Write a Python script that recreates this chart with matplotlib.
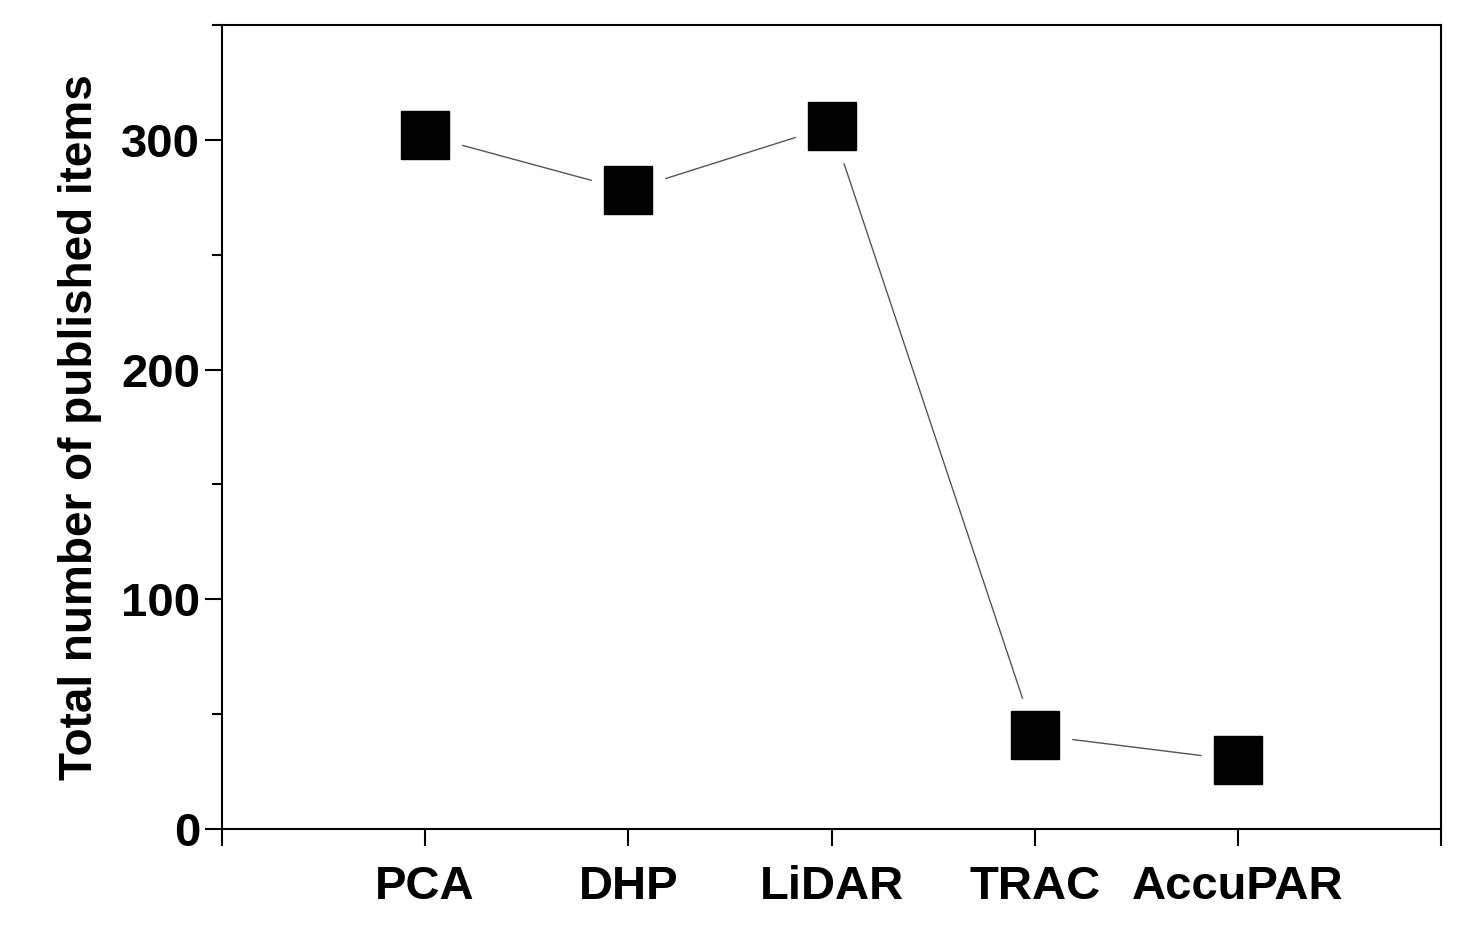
import matplotlib
matplotlib.use("Agg")
import matplotlib.pyplot as plt
from matplotlib.ticker import MultipleLocator

# data
methods = ["PCA", "DHP", "LiDAR", "TRAC", "AccuPAR"]
counts = [302, 278, 306, 41, 30]
positions = [1, 2, 3, 4, 5]

plt.rcParams["font.family"] = ["Liberation Sans", "DejaVu Sans"]
plt.rcParams["font.weight"] = "bold"

fig = plt.figure(figsize=(14.73, 9.32), dpi=100)
ax = fig.add_axes([0.1507, 0.1105, 0.8276, 0.8627])

# thin connecting line, with white halos to leave gaps at markers
ax.plot(positions, counts, color="#555555", linewidth=1.0, zorder=1)
ax.plot(positions, counts, linestyle="none", marker="s", markersize=52,
        markerfacecolor="white", markeredgecolor="white", zorder=2)
ax.plot(positions, counts, linestyle="none", marker="s", markersize=34,
        markerfacecolor="black", markeredgecolor="black", zorder=3)

ax.set_xlim(0, 6)
ax.set_ylim(0, 350)
ax.set_xticks([0, 1, 2, 3, 4, 5, 6])
ax.set_xticklabels([""] + methods + [""])
ax.yaxis.set_major_locator(MultipleLocator(100))
ax.yaxis.set_minor_locator(MultipleLocator(50))
ax.tick_params(axis="both", which="major", length=12, width=1.5,
               labelsize=34, direction="out")
ax.tick_params(axis="x", which="major", pad=14)
ax.tick_params(axis="y", which="minor", length=7, width=1.5, direction="out")
for lbl in ax.get_xticklabels() + ax.get_yticklabels():
    lbl.set_fontweight("bold")
for s in ax.spines.values():
    s.set_linewidth(1.5)

ax.set_ylabel("Total number of published items", fontsize=33,
              fontweight="bold", labelpad=14)

fig.savefig("out.png", dpi=100)
